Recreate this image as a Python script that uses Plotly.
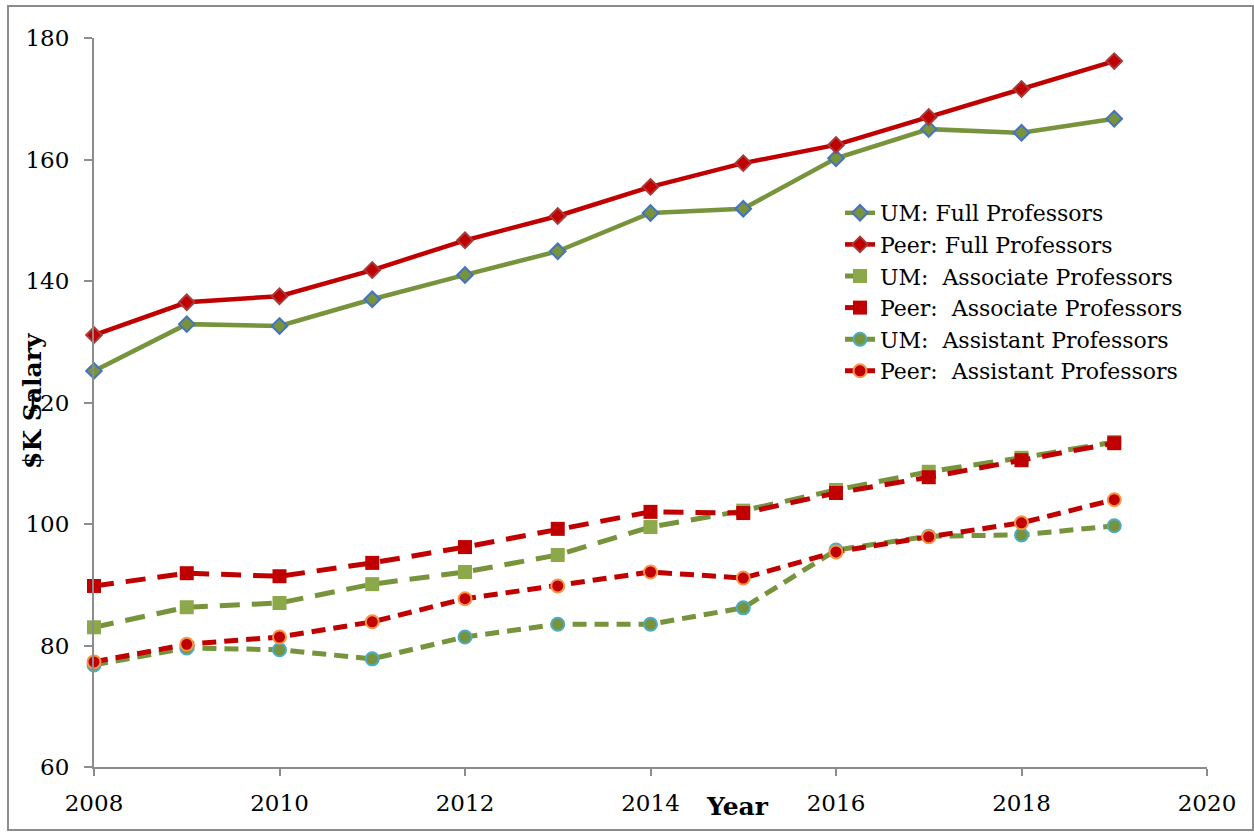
import plotly.graph_objects as go

years = [2008, 2009, 2010, 2011, 2012, 2013, 2014, 2015, 2016, 2017, 2018, 2019]
um_full = [125.2, 132.9, 132.6, 137.0, 141.0, 144.9, 151.2, 151.9, 160.2, 165.0, 164.4, 166.7]
peer_full = [131.1, 136.5, 137.5, 141.8, 146.7, 150.7, 155.5, 159.4, 162.4, 167.0, 171.6, 176.2]
um_assoc = [83.0, 86.3, 87.0, 90.1, 92.1, 94.9, 99.5, 102.2, 105.6, 108.6, 110.9, 113.5]
peer_assoc = [89.8, 91.9, 91.4, 93.6, 96.2, 99.2, 102.0, 101.8, 105.1, 107.7, 110.5, 113.3]
um_asst = [76.8, 79.6, 79.3, 77.8, 81.4, 83.5, 83.5, 86.2, 95.7, 98.0, 98.2, 99.7]
peer_asst = [77.3, 80.2, 81.4, 83.9, 87.7, 89.8, 92.1, 91.1, 95.4, 97.9, 100.2, 104.0]

GREEN = "#77933C"
RED = "#C00000"
FONT = "DejaVu Serif"

series = [
    ("UM: Full Professors", um_full, GREEN, "solid", 4.5,
     dict(symbol="diamond", size=12, color=GREEN, line=dict(color="#4472C4", width=2))),
    ("Peer: Full Professors", peer_full, RED, "solid", 4.5,
     dict(symbol="diamond", size=12, color=RED, line=dict(color="#A83A3A", width=2))),
    ("UM:  Associate Professors", um_assoc, GREEN, "20px,12px", 5,
     dict(symbol="square", size=14, color="#8CA94A", line=dict(width=0))),
    ("Peer:  Associate Professors", peer_assoc, RED, "20px,12px", 5,
     dict(symbol="square", size=14, color=RED, line=dict(width=0))),
    ("UM:  Assistant Professors", um_asst, GREEN, "14px,8px", 5,
     dict(symbol="circle", size=13, color=GREEN, line=dict(color="#4BACC6", width=2))),
    ("Peer:  Assistant Professors", peer_asst, RED, "14px,8px", 5,
     dict(symbol="circle", size=13, color=RED, line=dict(color="#F79646", width=2))),
]

fig = go.Figure()
for name, vals, col, dash, lw, mk in series:
    fig.add_trace(go.Scatter(
        x=years, y=vals, name=name, mode="lines+markers",
        line=dict(color=col, width=lw, dash=dash),
        marker=mk, cliponaxis=False,
    ))

W, H = 1254, 835
L, R, T, B = 94, 47, 38, 68
pw, ph = W - L - R, H - T - B

def px_x(p):
    return (p - L) / pw

def px_y(p):
    return (H - B - p) / ph

fig.update_layout(
    width=W, height=H,
    margin=dict(l=L, r=R, t=T, b=B),
    paper_bgcolor="white", plot_bgcolor="white",
    font=dict(family=FONT, size=22, color="black"),
    showlegend=True,
    legend=dict(
        x=px_x(840), y=px_y(192), xanchor="left", yanchor="top",
        bgcolor="rgba(0,0,0,0)", borderwidth=0,
        font=dict(family=FONT, size=22),
        itemwidth=30, traceorder="normal",
    ),
    xaxis=dict(
        range=[2008, 2020], dtick=2, tick0=2008,
        showline=True, linecolor="#8C8C8C", linewidth=2,
        ticks="outside", ticklen=7, tickcolor="#8C8C8C", tickwidth=2,
        showgrid=False, zeroline=False,
        tickfont=dict(family=FONT, size=23),
        ticklabelstandoff=7,
    ),
    yaxis=dict(
        range=[60, 180], dtick=20, tick0=60,
        showline=True, linecolor="#8C8C8C", linewidth=2,
        ticks="outside", ticklen=8, tickcolor="#8C8C8C", tickwidth=2,
        showgrid=False, zeroline=False,
        tickfont=dict(family=FONT, size=23),
        ticklabelstandoff=10,
    ),
    annotations=[
        dict(text="<b>$K Salary</b>", textangle=-90, xref="paper", yref="paper",
             x=px_x(33), y=px_y(401), xanchor="center", yanchor="middle",
             showarrow=False, font=dict(family=FONT, size=25)),
        dict(text="<b>Year</b>", xref="paper", yref="paper",
             x=px_x(737), y=px_y(806), xanchor="center", yanchor="middle",
             showarrow=False, font=dict(family=FONT, size=25)),
    ],
    shapes=[
        dict(type="rect", xref="paper", yref="paper",
             x0=px_x(8), x1=px_x(1253), y0=px_y(830), y1=px_y(6),
             line=dict(color="#8C8C8C", width=2), fillcolor="rgba(0,0,0,0)", layer="below"),
    ],
)

fig.write_html("out.html")
